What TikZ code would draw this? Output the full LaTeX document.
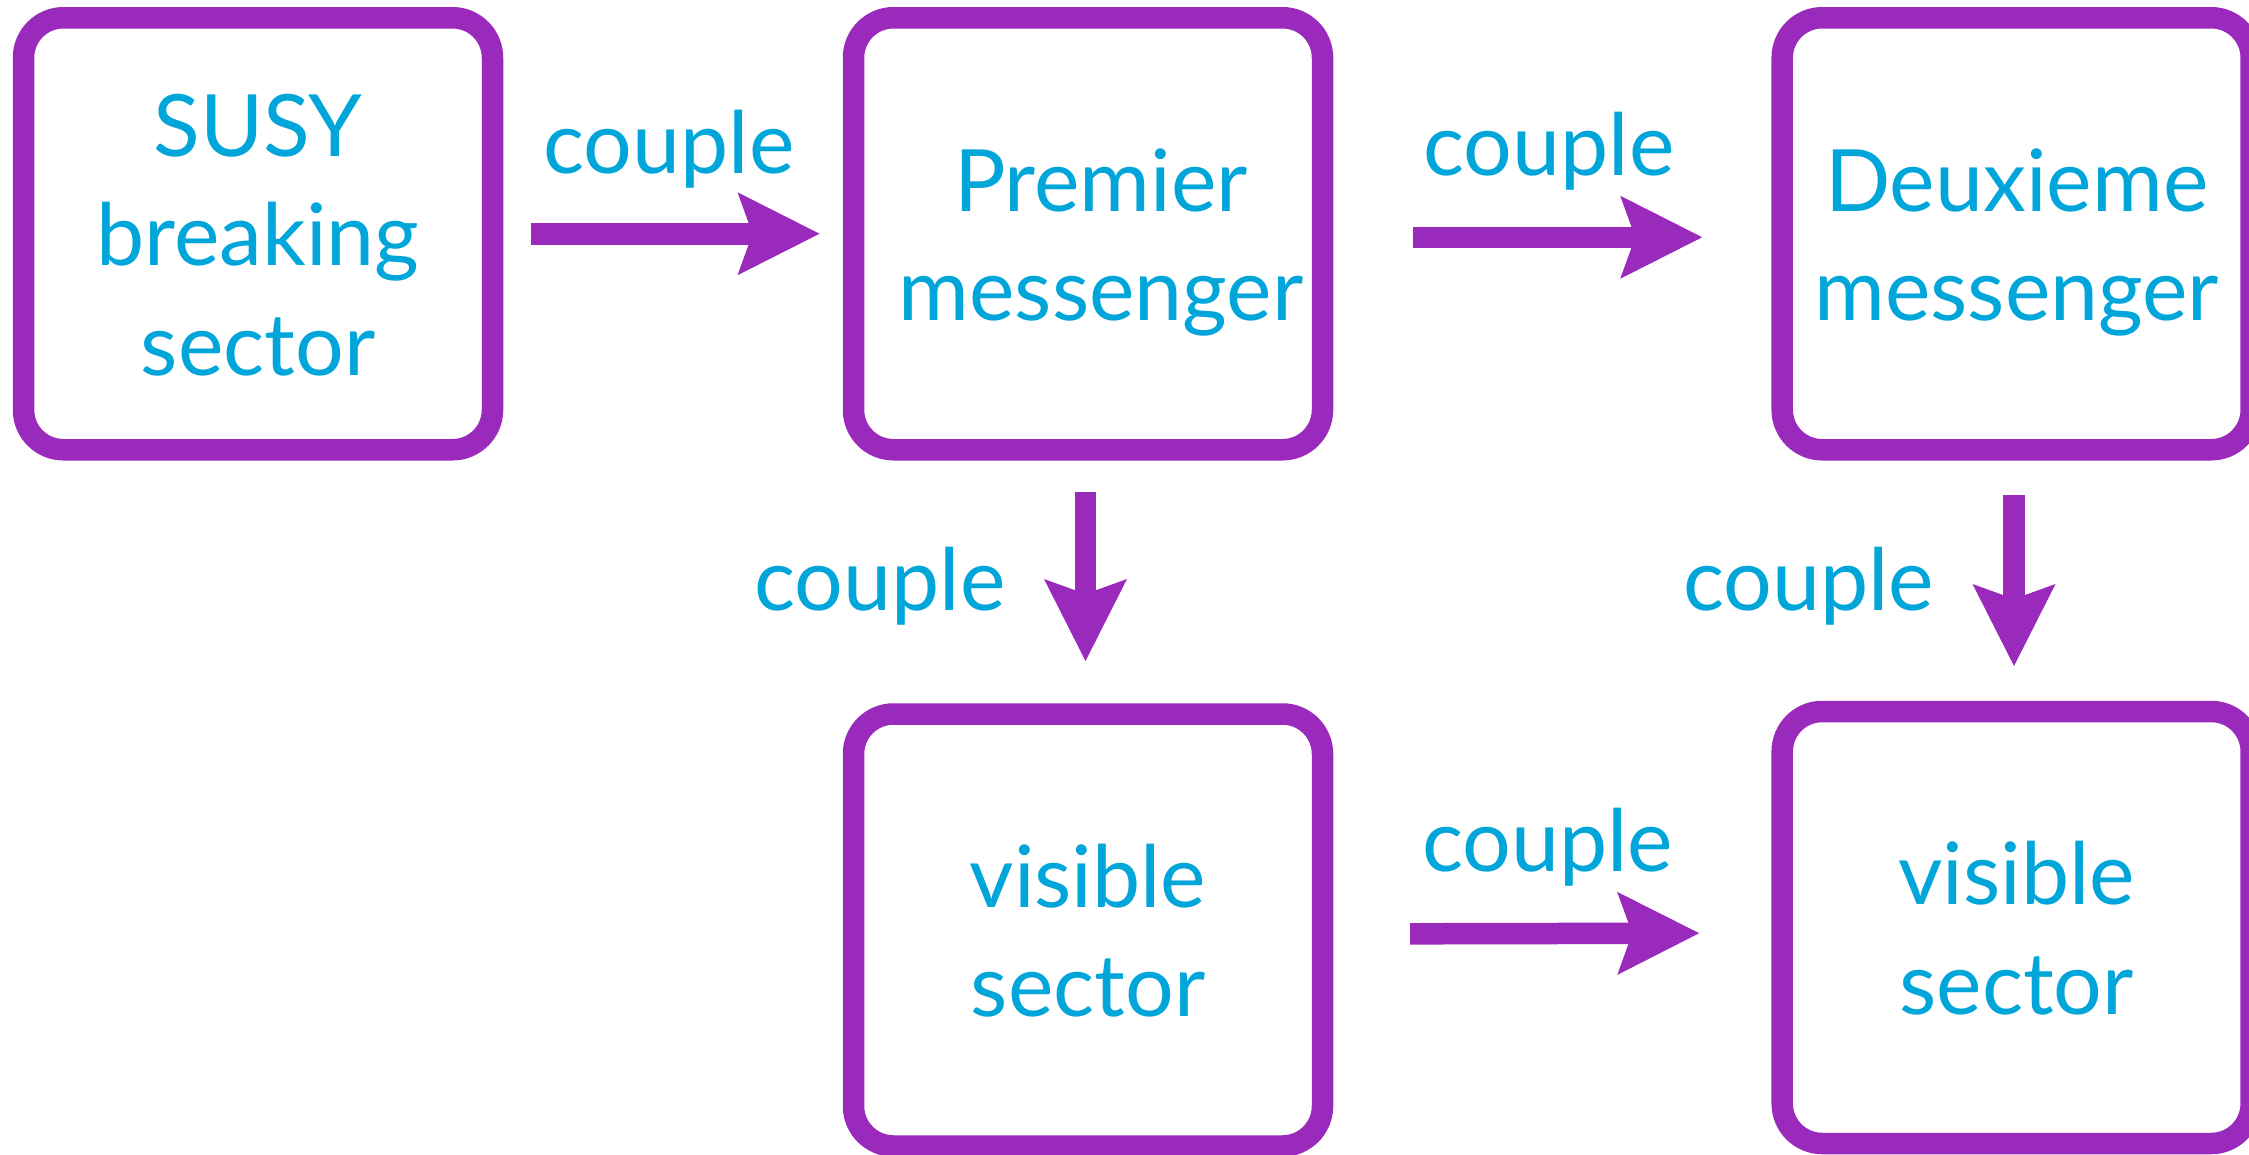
\documentclass[tikz,border=0pt]{standalone}
\usepackage{fontspec}
\setmainfont{Lato}
\usetikzlibrary{arrows.meta}
\definecolor{boxpurple}{RGB}{154,42,188}
\definecolor{textcyan}{RGB}{0,165,218}
% fixed ascent above the first line and depth below the last line,
% so every box places its baselines the same way
\newcommand\topgap{\rule{0pt}{90pt}}
\newcommand\bottomgap{\rule[-26pt]{0pt}{26pt}}
\begin{document}
\begin{tikzpicture}[x=1pt,y=-1pt,
  sector/.style={draw=boxpurple, line width=21.5pt, rounded corners=40pt,
    minimum width=469pt, minimum height=432pt, inner sep=0pt, outer sep=0pt,
    align=center, text=textcyan, font=\fontsize{86}{109.5}\selectfont},
  link/.style={draw=boxpurple, line width=21.5pt,
    -{Stealth[length=82pt,width=83pt,inset=15pt,line width=0pt]}},
  tag/.style={text=textcyan, font=\fontsize{86}{100}\selectfont,
    anchor=base, inner sep=0pt}]
\useasboundingbox (0,0) rectangle (2249,1154);
\fill[white] (0,0) rectangle (2249,1154);
\clip (0,0) rectangle (2249,1154);

% sectors
\node[sector] (susy)   at (258,233.75)   {\topgap SUSY\\breaking\\sector\bottomgap};
\node[sector] (first)  at (1088,233.75)  {\topgap\hspace*{26pt}Premier\\\hspace*{26pt}messenger\bottomgap};
\node[sector] (second) at (2016.7,233.75) {\topgap Deuxieme\\messenger\bottomgap};
\node[sector] (vis1)   at (1088,930)     {\topgap visible\\sector\bottomgap};
\node[sector] (vis2)   at (2016.7,927.5) {\topgap visible\\sector\bottomgap};

% couplings
\draw[link, shorten <=38.5pt, shorten >=34pt] (susy.east) -- (first.west);
\draw[link, shorten <=90pt, shorten >=80pt] ([yshift=-3.5pt]first.east) -- ([yshift=-3.5pt]second.west);
\draw[link, shorten <=42pt, shorten >=53pt] ([xshift=-2.5pt]first.south) -- ([xshift=-2.5pt]vis1.north);
\draw[link, shorten <=45pt, shorten >=45.5pt] ([xshift=-2.7pt]second.south) -- ([xshift=-2.7pt]vis2.north);
\draw[link, shorten <=87.7pt, shorten >=83pt] ([yshift=-4pt]vis1.east) -- ([yshift=-5.5pt]vis2.west);

% labels
\node[tag] (c1) at (669,173.3)    {couple};
\node[tag] (c2) at (1549,175)     {couple};
\node[tag] (c3) at (880,610)      {couple};
\node[tag] (c4) at (1808.7,610)   {couple};
\node[tag] (c5) at (1547.5,871.7) {couple};
\end{tikzpicture}
\end{document}
